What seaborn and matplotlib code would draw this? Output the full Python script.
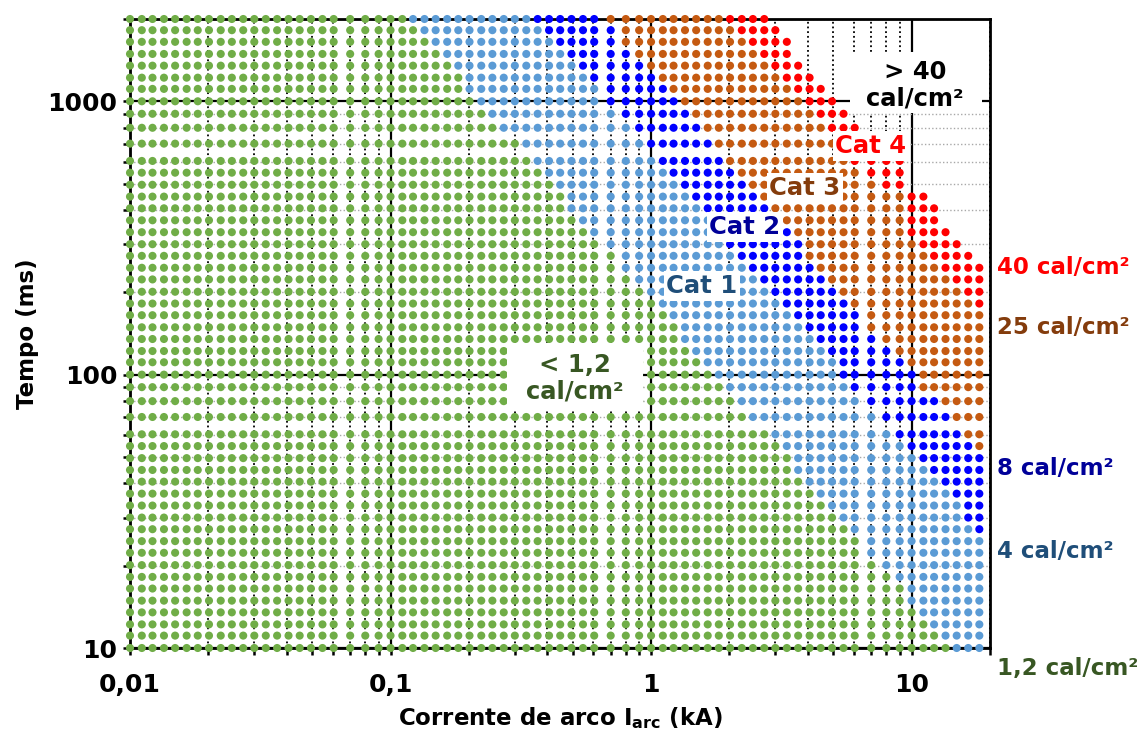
import matplotlib
matplotlib.use("Agg")
import matplotlib.pyplot as plt
from matplotlib.patches import Rectangle
from matplotlib.ticker import LogLocator, NullFormatter, FixedLocator, FixedFormatter
import pandas as pd
import seaborn as sns

# Grid of arc currents (kA) and clearing times (ms) evaluated
current_ka = [
    0.0100, 0.0111, 0.0122, 0.0135, 0.0149, 0.0165, 0.0182, 0.0201, 0.0223, 0.0246, 0.0272,
    0.0300, 0.0332, 0.0367, 0.0406, 0.0448, 0.0495, 0.0548, 0.0605, 0.07, 0.08, 0.09,
    0.100, 0.111, 0.122, 0.135, 0.149, 0.165, 0.182, 0.201, 0.223, 0.246, 0.272,
    0.300, 0.332, 0.367, 0.406, 0.448, 0.495, 0.548, 0.605, 0.7, 0.8, 0.9,
    1.00, 1.11, 1.22, 1.35, 1.49, 1.65, 1.82, 2.01, 2.23, 2.46, 2.72,
    3.00, 3.32, 3.67, 4.06, 4.48, 4.95, 5.48, 6.05, 7.0, 8.0, 9.0,
    10.0, 11.1, 12.2, 13.5, 14.9, 16.5, 18.2,
]
time_ms = [
    10, 11.1, 12.2, 13.5, 14.9, 16.5, 18.2, 20.1, 22.3, 24.6, 27.2,
    30.0, 33.2, 36.7, 40.6, 44.8, 49.5, 54.8, 60.5, 70, 80, 90,
    100, 111, 122, 135, 149, 165, 182, 201, 223, 246, 272,
    300, 332, 367, 406, 448, 495, 548, 605, 700, 800, 900,
    1000, 1110, 1220, 1350, 1490, 1650, 1820, 2000,
]

# For every time row: index of the first current column that reaches each
# incident-energy band (1,2 / 4 / 8 / 25 / 40 cal/cm2); 73 = not reached
cat1_start = [70, 69, 68, 67, 66, 66, 65, 64, 63, 63,
              62, 61, 60, 59, 58, 57, 57, 56, 55, 53,
              52, 51, 50, 49, 48, 47, 47, 46, 45, 44,
              43, 42, 42, 41, 40, 39, 38, 38, 37, 36,
              35, 34, 32, 31, 30, 29, 29, 28, 27, 26,
              25, 24]
cat2_start = [73, 73, 73, 73, 73, 73, 73, 73, 73, 73,
              72, 71, 71, 70, 69, 68, 67, 66, 65, 64,
              63, 62, 61, 61, 60, 59, 58, 57, 56, 55,
              54, 53, 52, 51, 51, 50, 49, 48, 47, 46,
              45, 44, 43, 42, 41, 41, 40, 39, 38, 37,
              36, 35]
cat3_start = [73, 73, 73, 73, 73, 73, 73, 73, 73, 73,
              73, 73, 73, 73, 73, 73, 73, 72, 71, 70,
              69, 67, 67, 66, 65, 64, 63, 63, 62, 61,
              60, 59, 58, 58, 57, 56, 55, 54, 53, 52,
              51, 50, 49, 48, 47, 46, 45, 44, 43, 42,
              42, 41]
cat4_start = [73, 73, 73, 73, 73, 73, 73, 73, 73, 73,
              73, 73, 73, 73, 73, 73, 73, 73, 73, 73,
              73, 73, 73, 73, 73, 73, 73, 73, 72, 71,
              70, 69, 68, 67, 66, 66, 66, 66, 64, 63,
              62, 61, 60, 59, 58, 57, 56, 55, 54, 53,
              52, 51]
over40_start = [73, 73, 73, 73, 73, 73, 73, 73, 73, 73,
                73, 73, 73, 73, 73, 73, 73, 73, 73, 73,
                73, 73, 73, 73, 73, 73, 73, 73, 73, 73,
                73, 73, 72, 71, 70, 69, 69, 68, 66, 66,
                66, 64, 63, 62, 61, 60, 59, 58, 57, 57,
                56, 55]

band_names = ["< 1,2", "Cat 1", "Cat 2", "Cat 3", "Cat 4"]
band_colors = ["#70AD47", "#5B9BD5", "#0000FF", "#C55A11", "#FF0000"]

records = []
for r, t in enumerate(time_ms):
    limits = [cat1_start[r], cat2_start[r], cat3_start[r], cat4_start[r], over40_start[r]]
    for c, i in enumerate(current_ka):
        level = sum(c >= lim for lim in limits)
        if level < 5:
            records.append({"corrente": i, "tempo": t, "faixa": band_names[level]})
df = pd.DataFrame(records)

sns.set_theme(style="white")
plt.rcParams["font.family"] = ["DejaVu Sans"]
plt.rcParams["font.weight"] = "bold"
plt.rcParams["mathtext.default"] = "bf"
for key in ("text.color", "axes.labelcolor", "xtick.color", "ytick.color",
            "xtick.labelcolor", "ytick.labelcolor"):
    plt.rcParams[key] = "black"

fig = plt.figure(figsize=(11.38, 7.36), dpi=100)
ax = fig.add_axes([130 / 1138, 88 / 736, 860 / 1138, 629 / 736])
ax.set_xscale("log")
ax.set_yscale("log")

sns.scatterplot(data=df, x="corrente", y="tempo", hue="faixa",
                hue_order=band_names, palette=dict(zip(band_names, band_colors)),
                s=34, linewidth=0, legend=False, ax=ax, zorder=3, clip_on=False)

ax.set_xlim(0.01, 20)
ax.set_ylim(10, 2000)

ax.xaxis.set_major_locator(FixedLocator([0.01, 0.1, 1, 10]))
ax.xaxis.set_major_formatter(FixedFormatter(["0,01", "0,1", "1", "10"]))
ax.yaxis.set_major_locator(FixedLocator([10, 100, 1000]))
ax.yaxis.set_major_formatter(FixedFormatter(["10", "100", "1000"]))
for axis in (ax.xaxis, ax.yaxis):
    axis.set_minor_locator(LogLocator(base=10, subs=range(2, 10), numticks=20))
    axis.set_minor_formatter(NullFormatter())

ax.set_axisbelow(True)
ax.grid(which="major", color="black", linewidth=1.6, linestyle="-")
ax.xaxis.grid(True, which="minor", color="black", linewidth=1.3, linestyle=(0, (1, 1.6)))
ax.yaxis.grid(True, which="minor", color="#a8a8a8", linewidth=1.0, linestyle=(0, (1, 1.6)))

for side in ax.spines.values():
    side.set_color("black")
    side.set_linewidth(2.0)

ax.tick_params(which="both", direction="out", length=5, width=1.8, colors="black",
               bottom=True, left=True, top=False, right=False)
ax.tick_params(axis="x", which="major", labelsize=18, pad=13)
ax.tick_params(axis="y", which="major", labelsize=18, pad=4)
for lbl in ax.get_xticklabels() + ax.get_yticklabels():
    lbl.set_fontweight("bold")

ax.set_xlabel("Corrente de arco I$_{\\mathbf{arc}}$ (kA)", fontsize=16.5, fontweight="bold",
              color="black", labelpad=6)
ax.set_ylabel("Tempo (ms)", fontsize=16.5, fontweight="bold", color="black", labelpad=6)


def px(x, y):
    return (x - 130) / 860, (648 - y) / 629


# white panels behind the two range captions
for (x0, y0, x1, y1) in [(850, 113, 982, 52), (507, 410, 643, 343)]:
    fx0, fy0 = px(x0, y0)
    fx1, fy1 = px(x1, y1)
    ax.add_patch(Rectangle((fx0, fy0), fx1 - fx0, fy1 - fy0, transform=ax.transAxes,
                           facecolor="white", edgecolor="none", zorder=4))

inside = [
    ("> 40\ncal/cm²", (915, 85), "black", None),
    ("Cat 4", (871, 146), "#FF0000", 0.12),
    ("Cat 3", (805, 188), "#843C0C", 0.12),
    ("Cat 2", (745, 227), "#000099", 0.12),
    ("Cat 1", (702, 286), "#1F4E79", 0.12),
    ("< 1,2\ncal/cm²", (575, 378), "#385723", None),
]
for text, pos, color, pad in inside:
    box = None if pad is None else dict(boxstyle=f"square,pad={pad}", fc="white", ec="none")
    ax.text(*px(*pos), text, transform=ax.transAxes, ha="center", va="center",
            fontsize=17.5, fontweight="bold", color=color, zorder=5, linespacing=1.15,
            bbox=box)

outside = [
    ("40 cal/cm²", 268, "#FF0000"),
    ("25 cal/cm²", 328, "#843C0C"),
    ("8 cal/cm²", 468, "#000099"),
    ("4 cal/cm²", 551, "#1F4E79"),
    ("1,2 cal/cm²", 668, "#385723"),
]
for text, ypix, color in outside:
    fig.text(997 / 1138, 1 - ypix / 736, text, ha="left", va="center",
             fontsize=16.5, fontweight="bold", color=color)

fig.savefig("out.png", dpi=100)
